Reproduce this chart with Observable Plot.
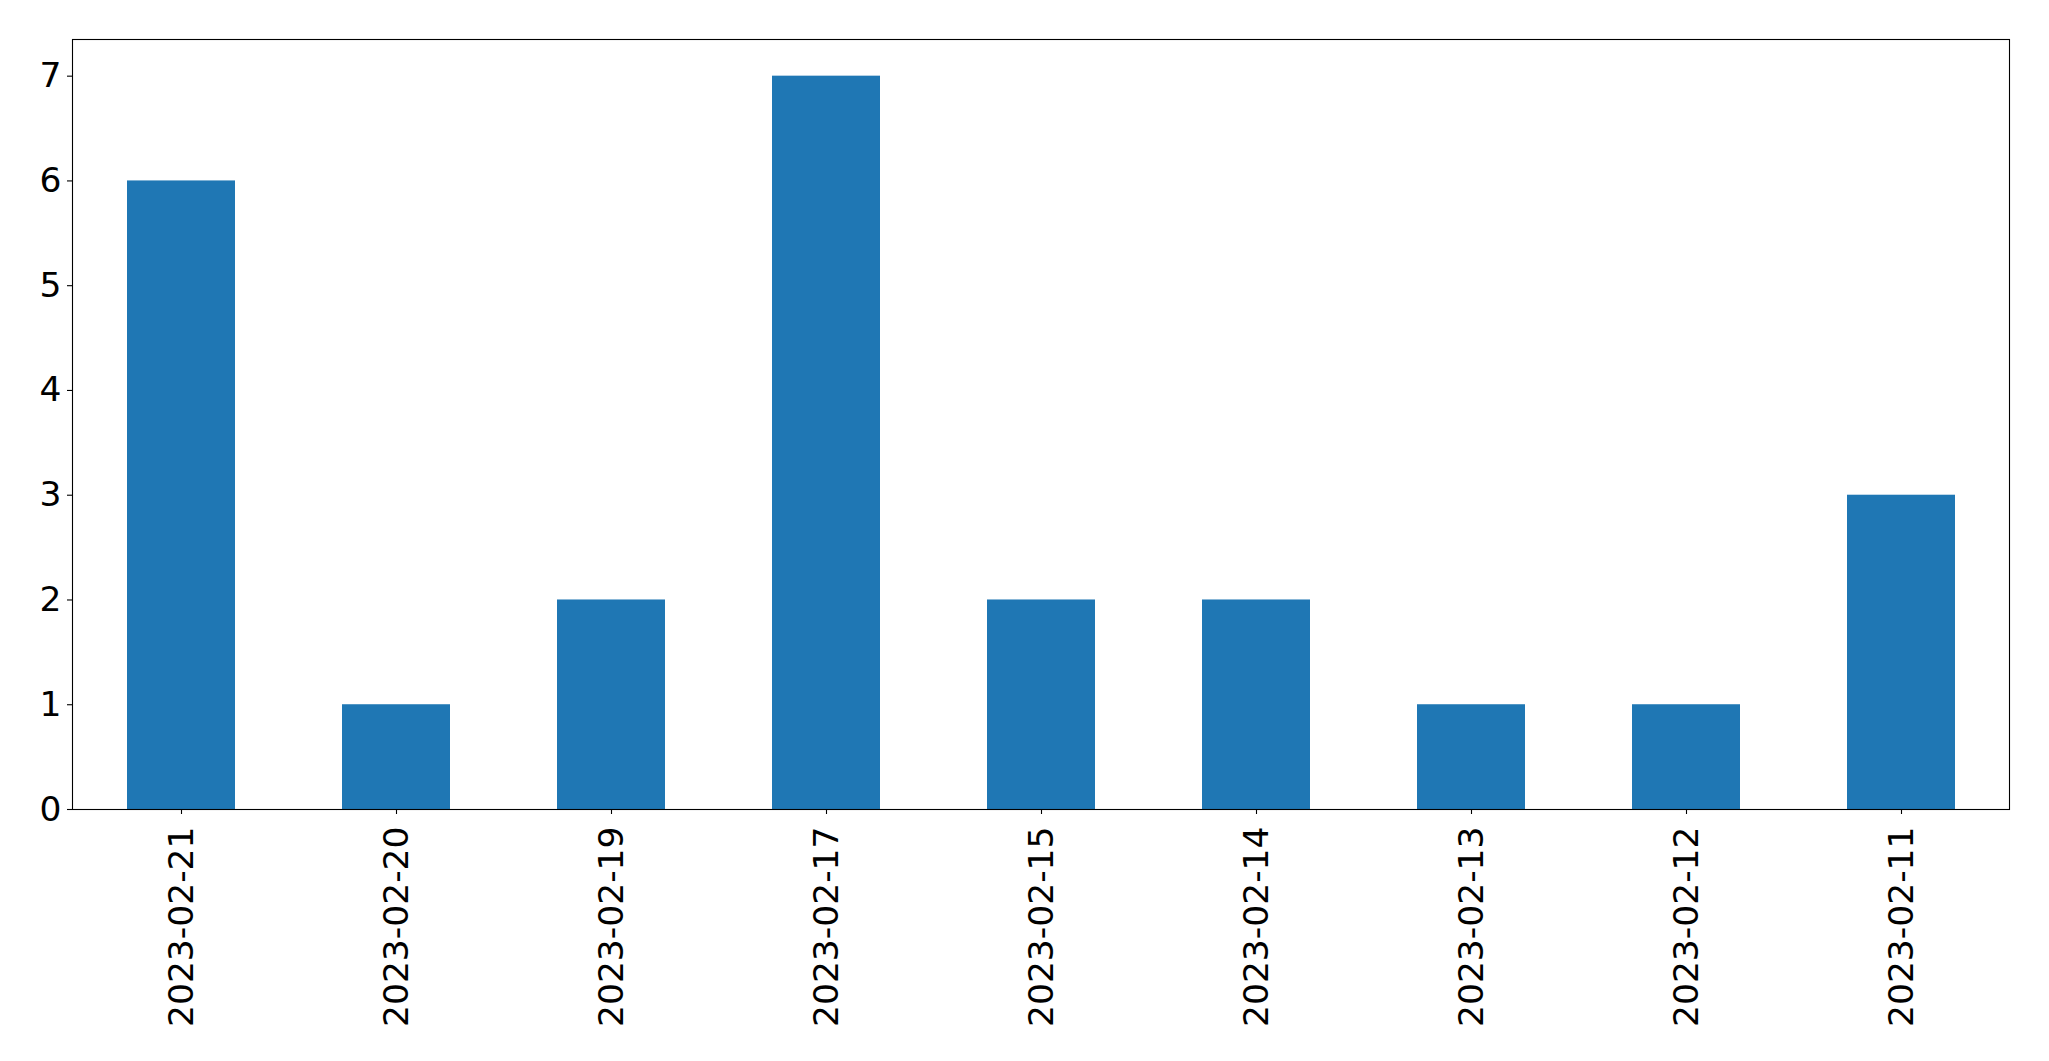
<!DOCTYPE html>
<html>
<head>
<meta charset="utf-8">
<script src="https://cdn.jsdelivr.net/npm/d3@7"></script>
<script src="https://cdn.jsdelivr.net/npm/@observablehq/plot@0.6"></script>
<style>
  html, body { margin: 0; padding: 0; background: #fff; }
  #chart svg { display: block; }
</style>
</head>
<body>
<div id="chart"></div>
<script>
const dates = ["2023-02-21", "2023-02-20", "2023-02-19", "2023-02-17", "2023-02-15", "2023-02-14", "2023-02-13", "2023-02-12", "2023-02-11"];
const counts = [6, 1, 2, 7, 2, 2, 1, 1, 3];
const yTicks = [0, 1, 2, 3, 4, 5, 6, 7];

const data = dates.map((d, i) => ({date: d, count: counts[i]}));

const chart = Plot.plot({
  width: 2049,
  height: 1061,
  marginLeft: 72,
  marginRight: 40,
  marginTop: 39,
  marginBottom: 252,
  style: {fontFamily: "'DejaVu Sans', sans-serif", fontSize: "34.5px", color: "#000", background: "#fff"},
  x: {domain: dates, paddingInner: 0.5, paddingOuter: 0.25, label: null},
  y: {domain: [0, 7.35], label: null},
  marks: [
    Plot.barY(data, {x: "date", y: "count", fill: "#1f77b4"}),
    Plot.frame({stroke: "#000", strokeWidth: 1.1}),
    Plot.axisX({tickRotate: -90, tickSize: 5, tickPadding: 12, fontSize: 34.5, stroke: "#000", strokeWidth: 1.1, label: null}),
    Plot.axisY({ticks: yTicks, tickFormat: d3.format("d"), tickSize: 5, tickPadding: 6, fontSize: 34.5, stroke: "#000", strokeWidth: 1.1, label: null})
  ]
});
document.getElementById("chart").appendChild(chart);
</script>
</body>
</html>
